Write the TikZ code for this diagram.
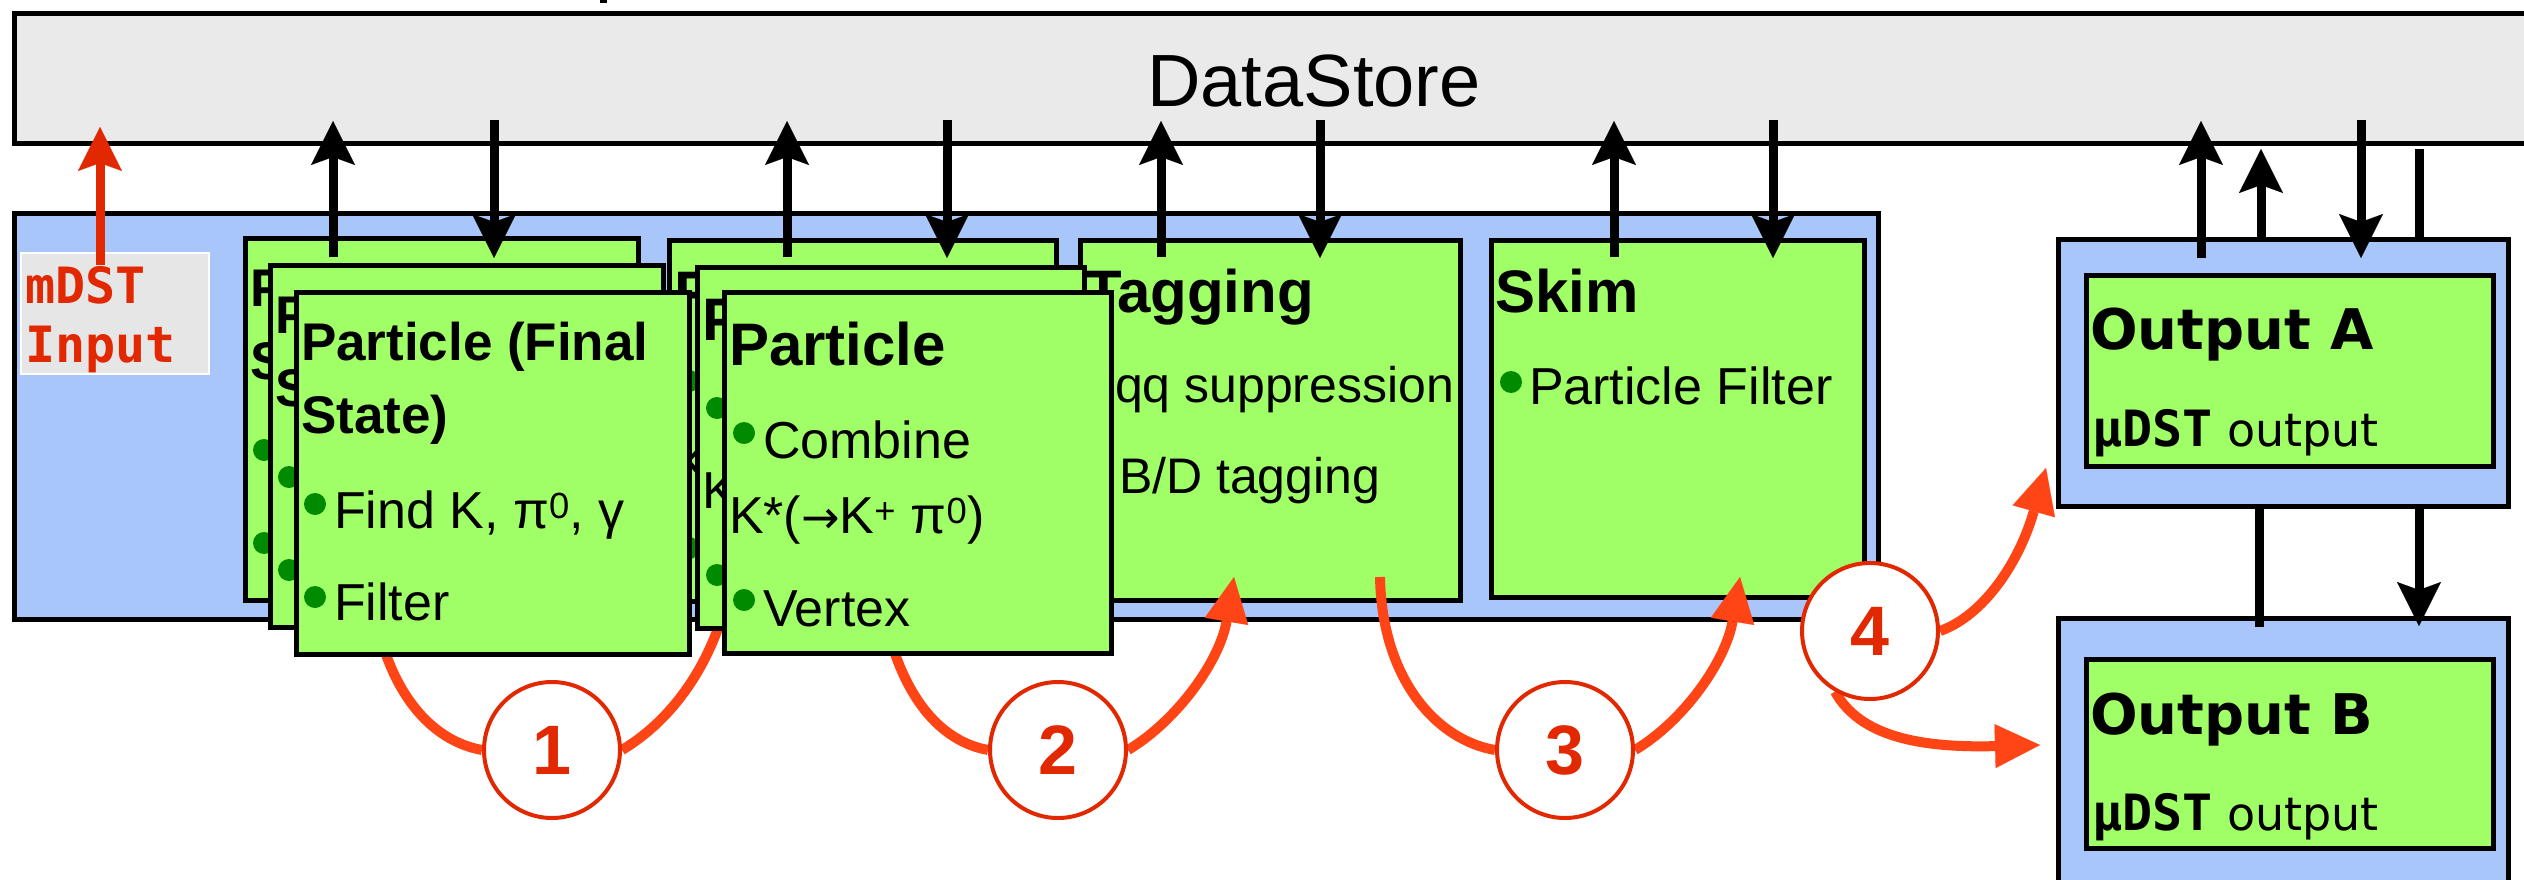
\documentclass[tikz,border=0pt]{standalone}
\usepackage{fontspec}
\setmainfont{Liberation Sans}
\newfontfamily\dvsans{DejaVu Sans}
\newfontfamily\dvmono{DejaVu Sans Mono}
\usetikzlibrary{arrows.meta,calc}

\definecolor{storegrey}{HTML}{EAEAEA}
\definecolor{pathblue}{HTML}{A8C6FA}
\definecolor{modgreen}{HTML}{A0FF66}
\definecolor{dotgreen}{HTML}{008A00}
\definecolor{inred}{HTML}{E22800}
\definecolor{flow}{HTML}{FF4516}
\definecolor{inputgrey}{HTML}{E6E6E6}

\newcommand{\fsz}[1]{\fontsize{#1}{#1}\selectfont}

\pgfdeclarelayer{back}
\pgfdeclarelayer{mid}
\pgfdeclarelayer{front}
\pgfdeclarelayer{top}
\pgfsetlayers{back,mid,main,front,top}

\tikzset{
  box/.style={draw=black, line width=5pt, inner sep=0pt, outer sep=0pt, anchor=north west, rectangle},
  modbox/.style={box, fill=modgreen},
  pathbox/.style={box, fill=pathblue},
  txt/.style={inner sep=0pt, outer sep=0pt, anchor=base west},
  title/.style={txt, font=\bfseries\fsz{60}},
  body/.style={txt, font=\fsz{52}},
  bullet/.style={circle, fill=dotgreen, minimum size=22pt, inner sep=0pt},
  dsarrow/.style={line width=9pt, -{Stealth[length=44pt, width=44pt, inset=8pt, line width=0.1pt]}},
  dsline/.style={line width=9pt},
  flowline/.style={draw=flow, line width=10pt},
  flowarrow/.style={flowline, -{Triangle[length=45pt, width=44pt, line width=0.1pt]}},
  stepnum/.style={circle, draw=inred, fill=white, line width=4pt, minimum size=136pt,
                  inner sep=0pt, text=inred, font=\bfseries\fsz{70}},
}

% final-state particle module (one layer of the stack)
\newcommand{\fsgroup}[2]{%
  \node[modbox, minimum width=393pt, minimum height=362pt] (#1) at (#2) {};
  \node[txt, font=\bfseries\fsz{53}] (#1-t1) at ($(#1.north west)+(5,68)$) {Particle (Final};
  \node[txt, font=\bfseries\fsz{53}] (#1-t2) at ($(#1.north west)+(5,141)$) {State)};
  \node[bullet] (#1-d1) at ($(#1.north west)+(19,212)$) {};
  \node[body] (#1-t3) at ($(#1.north west)+(38,236)$) {Find K, π\textsuperscript{0}, γ};
  \node[bullet] (#1-d2) at ($(#1.north west)+(19,305)$) {};
  \node[body] (#1-t4) at ($(#1.north west)+(38,328)$) {Filter};
}

% combined particle module (one layer of the stack)
\newcommand{\combgroup}[2]{%
  \node[modbox, minimum width=387pt, minimum height=361pt] (#1) at (#2) {};
  \node[title] (#1-t1) at ($(#1.north west)+(5,73)$) {Particle};
  \node[bullet] (#1-d1) at ($(#1.north west)+(20,141)$) {};
  \node[body] (#1-t2) at ($(#1.north west)+(39,166)$) {Combine};
  \node[body] (#1-t3) at ($(#1.north west)+(5,241)$) {K*({\dvsans\fsz{46}→}K\textsuperscript{+} π\textsuperscript{0})};
  \node[bullet] (#1-d2) at ($(#1.north west)+(20,308)$) {};
  \node[body] (#1-t4) at ($(#1.north west)+(39,334)$) {Vertex};
}

\begin{document}
\begin{tikzpicture}[x=1pt,y=-1pt]
\useasboundingbox (0,0) rectangle (2524,880);

% ---------- data store, path frame, input and output paths ----------
\begin{pgfonlayer}{back}
  \fill (600,-3) rectangle (607,3);
  \node[box, fill=storegrey, minimum width=2540pt, minimum height=130pt] (ds) at (14,14) {};
  \node[txt, anchor=base, font=\fsz{74}] (dslabel) at (1314,107) {DataStore};

  \node[pathbox, minimum width=1864pt, minimum height=406pt] (chain) at (14,213) {};
  \node[box, draw=white, line width=2pt, fill=inputgrey, minimum width=188pt, minimum height=121pt] (input) at (21,253) {};
  \node[txt, font=\dvmono\bfseries\fsz{50}, text=inred] (inputA) at (25,303) {mDST};
  \node[txt, font=\dvmono\bfseries\fsz{50}, text=inred] (inputB) at (25,362) {Input};

  \node[pathbox, minimum width=450pt, minimum height=267pt] (outA) at (2058,239) {};
  \node[modbox, minimum width=407pt, minimum height=191pt] (outAin) at (2086,275) {};
  \node[txt, font=\dvsans\bfseries\fsz{56}] (outAt) at (2090,349) {Output A};
  \node[txt, font=\dvsans\fsz{46}] (outAs) at (2092,446) {{\dvmono\bfseries\fsz{50}µDST} output};

  \node[pathbox, minimum width=450pt, minimum height=300pt] (outB) at (2058,618) {};
  \node[modbox, minimum width=407pt, minimum height=189pt] (outBin) at (2086,659) {};
  \node[txt, font=\dvsans\bfseries\fsz{56}] (outBt) at (2090,734) {Output B};
  \node[txt, font=\dvsans\fsz{46}] (outBs) at (2092,830) {{\dvmono\bfseries\fsz{50}µDST} output};
\end{pgfonlayer}

% ---------- modules ----------
\node[modbox, minimum width=380pt, minimum height=360pt] (tag) at (1080,240) {};
\node[title] (tag-t1) at ($(tag.north west)+(5,72)$) {Tagging};
\node[body, font=\fsz{50}] (tag-t2) at ($(tag.north west)+(35,162)$) {qq suppression};
\node[body, font=\fsz{50}] (tag-t3) at ($(tag.north west)+(39,253)$) {B/D tagging};

\node[modbox, minimum width=373pt, minimum height=357pt] (skim) at (1491,240) {};
\node[title] (skim-t1) at ($(skim.north west)+(4,72)$) {Skim};
\node[bullet] (skim-d1) at ($(skim.north west)+(20,142)$) {};
\node[body] (skim-t2) at ($(skim.north west)+(38,164)$) {Particle Filter};

\fsgroup{g1a}{245,238}
\combgroup{g2a}{669,240}
\fsgroup{g1b}{270,265}
\combgroup{g2b}{697,267}
\fsgroup{g1c}{296,292}
\combgroup{g2c}{724,292}

% ---------- step markers ----------
\begin{pgfonlayer}{top}
  \node[stepnum] (s1) at (552,750) {1};
  \node[stepnum] (s2) at (1058,750) {2};
  \node[stepnum] (s3) at (1565,750) {3};
  \node[stepnum] (s4) at (1870,631) {4};
\end{pgfonlayer}

% ---------- flow curves passing behind the modules ----------
\begin{pgfonlayer}{mid}
  \draw[flowline] ($(g1c.south west)+(85,-15)$) .. controls ($(g1c.south west)+(104,51)$) and ($(s1.west)+(-44,-8)$) .. (s1.west);
  \draw[flowline] (s1.east) .. controls ($(s1.east)+(50,-30)$) and ($(g2c.south west)+(-6,8)$) .. ($(g2c.south west)+(9,-82)$);
  \draw[flowline] ($(g2c.south west)+(166,-15)$) .. controls ($(g2c.south west)+(185,51)$) and ($(s2.west)+(-44,-8)$) .. (s2.west);
\end{pgfonlayer}

% ---------- data store access and visible flow ----------
\begin{pgfonlayer}{front}
  % particle (final state)
  \draw[dsarrow] ($(g1a.north west)+(88,19)$) -- ($(g1a.north west |- ds.south)+(88,-23)$);
  \draw[dsarrow] ($(g1a.north west |- ds.south)+(249,-24)$) -- ($(g1a.north west)+(249,20)$);
  % particle combination
  \draw[dsarrow] ($(g2a.north west)+(118,17)$) -- ($(g2a.north west |- ds.south)+(118,-23)$);
  \draw[dsarrow] ($(g2a.north west |- ds.south)+(278,-24)$) -- ($(g2a.north west)+(278,18)$);
  % tagging
  \draw[dsarrow] ($(tag.north west)+(81,17)$) -- ($(tag.north west |- ds.south)+(81,-23)$);
  \draw[dsarrow] ($(tag.north west |- ds.south)+(240,-24)$) -- ($(tag.north west)+(240,18)$);
  % skim
  \draw[dsarrow] ($(skim.north west)+(123,17)$) -- ($(skim.north west |- ds.south)+(123,-23)$);
  \draw[dsarrow] ($(skim.north west |- ds.south)+(282,-24)$) -- ($(skim.north west)+(282,18)$);
  % output A
  \draw[dsarrow] ($(outA.north west)+(143,19)$) -- ($(outA.north west |- ds.south)+(143,-23)$);
  \draw[dsarrow] ($(outA.north west)+(203,0)$) -- ($(outA.north west |- ds.south)+(203,5)$);
  \draw[dsarrow] ($(outA.north west |- ds.south)+(303,-24)$) -- ($(outA.north west)+(303,19)$);
  \draw[dsline] ($(outA.north west |- ds.south)+(361,5)$) -- ($(outA.north west)+(361,0)$);
  % output A to output B
  \draw[dsline] ($(outA.south west)+(201,0)$) -- ($(outB.north west)+(201,9)$);
  \draw[dsarrow] ($(outA.south west)+(361,0)$) -- ($(outB.north west)+(361,8)$);
  % input
  \draw[dsarrow, inred] ($(input.north west)+(79,12)$) -- ($(input.north west |- ds.south)+(79,-17)$);

  % visible flow curves
  \draw[flowarrow] (s2.east) .. controls ($(s2.east)+(50,-30)$) and ($(tag.south west)+(140,60)$) .. ($(tag.south west)+(154,-23)$);
  \draw[flowline] ($(tag.south west)+(300,-23)$) .. controls ($(tag.south west)+(302,80)$) and ($(s3.west)+(-58,-10)$) .. (s3.west);
  \draw[flowarrow] (s3.east) .. controls ($(s3.east)+(50,-30)$) and ($(skim.south west)+(235,63)$) .. ($(skim.south west)+(249,-20)$);
  \draw[flowarrow] (s4.east) .. controls ($(s4.east)+(45,-16)$) and ($(outA.south west)+(-38,54)$) .. ($(outA.south west)+(-12,-38)$);
  \draw[flowarrow] (s4.-120) .. controls ($(s4.-120)+(25,45)$) and ($(outB.north west)+(-138,130)$) .. ($(outB.north west)+(-18,127)$);
\end{pgfonlayer}
\end{tikzpicture}
\end{document}
